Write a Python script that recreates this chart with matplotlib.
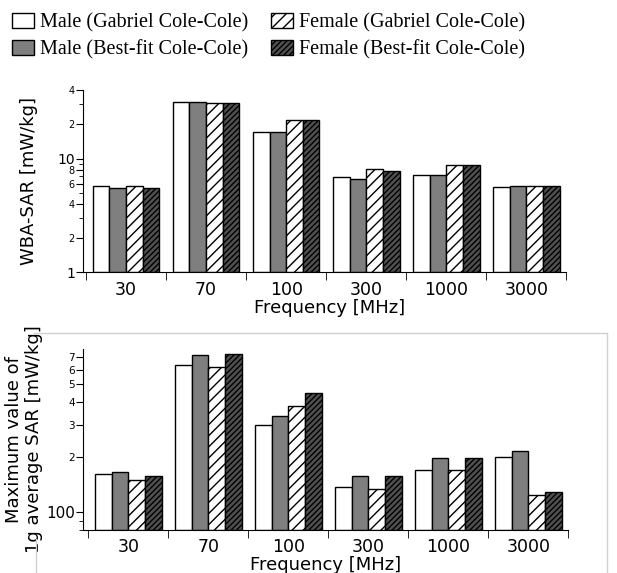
"""WBA-SAR and peak 1g SAR, male/female models, two Cole-Cole fits"""

import numpy as np
import matplotlib.pyplot as plt
from matplotlib.patches import Patch
from matplotlib.lines import Line2D
from matplotlib.ticker import FixedLocator, NullFormatter

freqs = ['30', '70', '100', '300', '1000', '3000']
series = ['Male (Gabriel Cole-Cole)', 'Male (Best-fit Cole-Cole)',
          'Female (Gabriel Cole-Cole)', 'Female (Best-fit Cole-Cole)']

# whole-body average SAR [mW/kg]
wba_male_gab = [5.75, 31.4, 17.0, 6.86, 7.1, 5.6]
wba_male_fit = [5.56, 31.6, 17.0, 6.58, 7.1, 5.75]
wba_female_gab = [5.68, 31.0, 21.8, 8.17, 8.86, 5.68]
wba_female_fit = [5.52, 31.0, 21.8, 7.85, 8.86, 5.72]

# maximum 1g average SAR [mW/kg]
psar_male_gab = [161, 636, 298, 138, 171, 201]
psar_male_fit = [166, 718, 336, 158, 197, 216]
psar_female_gab = [149, 618, 382, 134, 171, 124]
psar_female_fit = [158, 727, 446, 158, 197, 129]

plt.rcParams['hatch.linewidth'] = 1.0
tick_font = 'DejaVu Sans'

styles = [
    {'facecolor': 'white', 'hatch': None},
    {'facecolor': '#7f7f7f', 'hatch': None},
    {'facecolor': 'white', 'hatch': '///'},
    {'facecolor': '#505050', 'hatch': '//////'},
]

fig = plt.figure(figsize=(6.17, 5.73), dpi=100)
ax1 = fig.add_axes([0.135, 0.5248, 0.783, 0.318])
ax2 = fig.add_axes([0.135, 0.075, 0.786, 0.3156])

x = np.arange(len(freqs))
w = 0.208


def draw(ax, data, base):
    for k, (vals, st) in enumerate(zip(data, styles)):
        heights = np.array(vals) - base
        ax.bar(x + (k - 1.5) * w, heights, w, bottom=base,
               facecolor=st['facecolor'], hatch=st['hatch'],
               edgecolor='black', linewidth=1.0)
    ax.set_yscale('log')
    for s in ['top', 'right']:
        ax.spines[s].set_visible(False)
    ax.xaxis.set_major_locator(FixedLocator(x))
    ax.set_xticklabels(freqs, fontsize=12.5, family=tick_font)
    ax.xaxis.set_minor_locator(FixedLocator(np.arange(-0.5, 6, 1)))
    ax.tick_params(axis='x', which='major', length=0, pad=6)
    ax.tick_params(axis='x', which='minor', length=6, direction='out')
    ax.tick_params(axis='y', which='major', length=5, pad=1)
    ax.tick_params(axis='y', which='minor', length=3)


draw(ax1, [wba_male_gab, wba_male_fit, wba_female_gab, wba_female_fit], 1.0)
ax1.set_xlim(-0.534, 5.5)
ax1.set_ylim(1, 40)
ax1.yaxis.set_major_locator(FixedLocator([1, 2, 4, 6, 8, 10, 20, 40]))
ax1.yaxis.set_minor_locator(FixedLocator([3, 5, 7, 9, 30]))
ax1.yaxis.set_minor_formatter(NullFormatter())
labs1 = ['1', '2', '4', '6', '8', '10', '2', '4']
ax1.set_yticklabels(labs1, family=tick_font)
for lab, txt in zip(ax1.get_yticklabels(), labs1):
    lab.set_fontsize(10 if txt in ('1', '10') else 7)
    if txt == '10':
        lab.set_verticalalignment('center_baseline')
ax1.set_ylabel('WBA-SAR [mW/kg]', fontsize=13, family=tick_font, labelpad=14)
ax1.set_xlabel('Frequency [MHz]', fontsize=13, family=tick_font, labelpad=0)
ax1.xaxis.label.set_x(0.51)

draw(ax2, [psar_male_gab, psar_male_fit, psar_female_gab, psar_female_fit], 80)
ax2.set_xlim(-0.5625, 5.5)
ax2.set_ylim(80, 775)
ax2.yaxis.set_major_locator(FixedLocator([100, 200, 300, 400, 500, 600, 700]))
ax2.yaxis.set_minor_locator(FixedLocator([80, 90]))
ax2.yaxis.set_minor_formatter(NullFormatter())
labs2 = ['100', '2', '3', '4', '5', '6', '7']
ax2.set_yticklabels(labs2, family=tick_font)
for lab, txt in zip(ax2.get_yticklabels(), labs2):
    lab.set_fontsize(11 if txt == '100' else 7.5)
ax2.set_ylabel('Maximum value of\n1g average SAR [mW/kg]', fontsize=13,
               family=tick_font, labelpad=2, linespacing=1.15)
ax2.set_xlabel('Frequency [MHz]', fontsize=13, family=tick_font, labelpad=0)

# faint frame around the lower panel (scan border)
for xs, ys in [([0.055, 0.984], [0.419, 0.419]), ([0.984, 0.984], [0.419, 0.0]),
               ([0.058, 0.058], [0.06, 0.0])]:
    fig.add_artist(Line2D(xs, ys, color='#d0d0d0', lw=1.0))

handles = [Patch(facecolor=st['facecolor'], hatch=st['hatch'],
                 edgecolor='black', linewidth=1.0) for st in styles]
fig.legend(handles, series, ncol=2, loc='upper left',
           bbox_to_anchor=(0.0, 0.998), frameon=False,
           prop={'family': 'Liberation Serif', 'size': 14.5},
           handlelength=1.1, handleheight=0.75, handletextpad=0.3,
           columnspacing=1.1, labelspacing=0.38, borderaxespad=0.2)

fig.savefig('out.png', dpi=100)
